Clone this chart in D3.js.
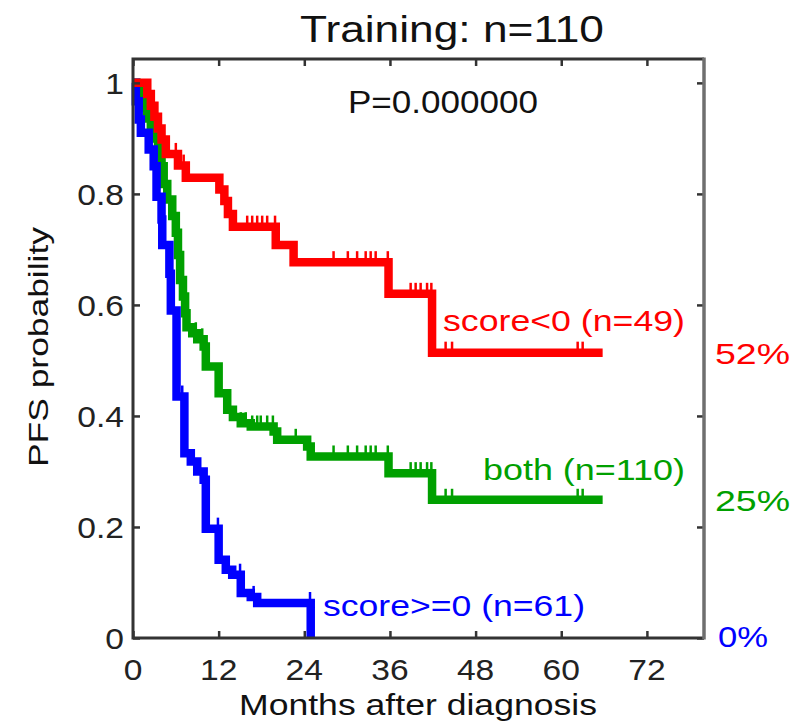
<!DOCTYPE html>
<html>
<head>
<meta charset="utf-8">
<script src="https://cdn.jsdelivr.net/npm/d3@7"></script>
<style>
  body { margin: 0; background: #fff; }
  text { font-family: "Liberation Sans", Arial, sans-serif; }
</style>
</head>
<body>
<div id="chart"></div>
<script>
// Ticks
const monthTicks = [0, 12, 24, 36, 48, 60, 72];
const probTicks = [0, 0.2, 0.4, 0.6, 0.8, 1];

// score<0 (n=49)
const redTimes = [0, 2.0, 2.5, 3.0, 3.5, 4.0, 4.6, 6.3, 7.4, 12.1, 12.8, 13.3, 14.0, 20.0, 22.5, 35.8, 41.9];
const redSurv  = [1, 0.980, 0.959, 0.939, 0.918, 0.898, 0.872, 0.851, 0.829, 0.808, 0.787, 0.764, 0.741, 0.708, 0.677, 0.620, 0.514];
const redCens  = [2.0, 3.2, 6.0, 7.1, 12.3, 16.0, 16.7, 17.4, 18.1, 18.8, 19.9, 22.8, 28.1, 30.1, 31.4, 32.6, 33.3, 34.0, 35.7, 38.9, 39.6, 40.3, 41.2, 41.8, 43.8, 44.7, 62.3, 63.0];
const redEnd = 65.8;

// both (n=110)
const greenTimes = [0, 0.5, 1.0, 1.5, 2.0, 2.5, 3.0, 3.5, 4.0, 4.3, 4.8, 5.5, 6.0, 6.3, 6.6, 7.0, 7.3, 7.5, 8.3, 9.0, 9.9, 10.2, 12.0, 13.2, 14.0, 15.1, 16.5, 19.7, 20.2, 24.4, 24.9, 35.8, 41.9];
const greenSurv  = [1, 0.991, 0.973, 0.955, 0.936, 0.918, 0.900, 0.873, 0.850, 0.818, 0.790, 0.760, 0.730, 0.690, 0.645, 0.615, 0.585, 0.560, 0.549, 0.538, 0.525, 0.489, 0.441, 0.411, 0.398, 0.387, 0.381, 0.372, 0.357, 0.345, 0.327, 0.297, 0.249];
const greenCens  = [2.0, 6.0, 7.1, 7.8, 8.8, 9.7, 12.3, 15.1, 15.8, 16.7, 17.4, 17.9, 18.8, 19.6, 22.8, 28.1, 30.1, 31.4, 32.6, 33.3, 34.0, 35.7, 38.9, 39.6, 40.3, 41.2, 41.8, 43.8, 44.7, 62.3, 63.0];
const greenEnd = 65.8;

// score>=0 (n=61)
const blueTimes = [0, 0.4, 0.8, 1.1, 2.2, 2.9, 3.3, 4.0, 4.1, 5.1, 5.3, 6.1, 7.2, 8.1, 9.0, 9.9, 10.2, 12.0, 13.0, 13.9, 15.1, 16.5, 17.4, 24.9];
const blueSurv  = [1, 0.967, 0.934, 0.910, 0.880, 0.850, 0.795, 0.754, 0.708, 0.656, 0.590, 0.435, 0.333, 0.318, 0.300, 0.285, 0.197, 0.141, 0.123, 0.114, 0.081, 0.074, 0.063, 0];
const blueCens  = [6.9, 11.9, 15.0, 16.9, 24.8];
const blueEnd = 24.9;

// Layout
const W = 801, H = 724;
const plot = { left: 133, right: 704, top: 59, bottom: 638 };

const svg = d3.select("#chart").append("svg")
    .attr("width", W)
    .attr("height", H);

const x = d3.scaleLinear().domain([0, 80]).range([plot.left, plot.right]);
const y = d3.scaleLinear().domain([0, 1.043]).range([plot.bottom, plot.top]);

const series = [
    { times: greenTimes, surv: greenSurv, cens: greenCens, end: greenEnd, color: "#00a000" },
    { times: blueTimes, surv: blueSurv, cens: blueCens, end: blueEnd, color: "#0000ff" },
    { times: redTimes, surv: redSurv, cens: redCens, end: redEnd, color: "#ff0000" }
];

const line = d3.line()
    .x(d => x(d[0]))
    .y(d => y(d[1]))
    .curve(d3.curveStepAfter);

function survAt(s, t) {
    let v = s.surv[0];
    for (let i = 0; i < s.times.length; i++) {
        if (s.times[i] <= t) v = s.surv[i];
    }
    return v;
}

series.forEach(s => {
    const pts = s.times.map((t, i) => [t, s.surv[i]]);
    const last = pts[pts.length - 1];
    if (s.end > last[0]) pts.push([s.end, last[1]]);

    svg.append("path")
        .datum(pts)
        .attr("d", line)
        .attr("fill", "none")
        .attr("stroke", s.color)
        .attr("stroke-width", 8.5)
        .attr("stroke-linejoin", "miter")
        .attr("stroke-linecap", "butt");

    // censoring marks
    svg.selectAll(null)
        .data(s.cens)
        .enter()
        .append("line")
        .attr("x1", d => x(d))
        .attr("x2", d => x(d))
        .attr("y1", d => y(survAt(s, d)))
        .attr("y2", d => y(survAt(s, d)) - 11)
        .attr("stroke", s.color)
        .attr("stroke-width", 2.5);
});

// Axes box with inward ticks
const axisColor = "#333";
const xAxis = d3.axisBottom(x).tickValues(monthTicks).tickSizeInner(-7).tickSizeOuter(0).tickFormat("");
const xAxisTop = d3.axisTop(x).tickValues(monthTicks).tickSizeInner(-7).tickSizeOuter(0).tickFormat("");
const yAxis = d3.axisLeft(y).tickValues(probTicks).tickSizeInner(-7).tickSizeOuter(0).tickFormat("");
const yAxisRight = d3.axisRight(y).tickValues(probTicks).tickSizeInner(-7).tickSizeOuter(0).tickFormat("");

svg.append("g").attr("transform", `translate(0,${plot.bottom})`).call(xAxis);
svg.append("g").attr("transform", `translate(0,${plot.top})`).call(xAxisTop);
svg.append("g").attr("transform", `translate(${plot.left},0)`).call(yAxis);
svg.append("g").attr("transform", `translate(${plot.right},0)`).call(yAxisRight);

svg.selectAll(".domain").remove();
svg.selectAll(".tick line").attr("stroke", axisColor).attr("stroke-width", 2.5);

svg.append("path")
    .attr("d", `M${plot.right},${plot.top}H${plot.left}V${plot.bottom}H${plot.right}`)
    .attr("fill", "none")
    .attr("stroke", axisColor)
    .attr("stroke-width", 3);

svg.append("line")
    .attr("x1", plot.right).attr("x2", plot.right)
    .attr("y1", plot.top - 1.5).attr("y2", plot.bottom + 1.5)
    .attr("stroke", "#6f6f6f")
    .attr("stroke-width", 3.5);

// Tick labels (slightly stretched like the original bitmap)
svg.selectAll(".xlab")
    .data(monthTicks)
    .enter()
    .append("text")
    .attr("transform", d => `translate(${x(d)},680) scale(1.12,1)`)
    .attr("text-anchor", "middle")
    .attr("font-size", 30)
    .attr("fill", "#222")
    .text(d => d);

svg.selectAll(".ylab")
    .data(probTicks)
    .enter()
    .append("text")
    .attr("transform", d => `translate(124,${y(d) + 11}) scale(1.12,1)`)
    .attr("text-anchor", "end")
    .attr("font-size", 30)
    .attr("fill", "#222")
    .text(d => d === 0 || d === 1 ? d : d.toFixed(1));

function addText(str, px, py, size, len, color, anchor, rotate) {
    const t = svg.append("text")
        .attr("x", px)
        .attr("y", py)
        .attr("font-size", size)
        .attr("fill", color)
        .attr("text-anchor", anchor || "start")
        .attr("textLength", len)
        .attr("lengthAdjust", "spacingAndGlyphs")
        .text(str);
    if (rotate) t.attr("transform", `rotate(${rotate},${px},${py})`);
    return t;
}

addText("Training: n=110", 452, 42, 37, 304, "#111", "middle");
addText("P=0.000000", 348, 113, 31, 190, "#111");
addText("Months after diagnosis", 418, 715, 29, 358, "#111", "middle");
addText("PFS probability", 48, 347, 28, 240, "#111", "middle", -90);

addText("score<0 (n=49)", 443, 331, 29, 242, "#ff0000");
addText("both (n=110)", 483, 480, 29, 202, "#00a000");
addText("score>=0 (n=61)", 323, 616, 29, 262, "#0000ff");

addText("52%", 715, y(redSurv[redSurv.length - 1]) + 11, 30, 75, "#ff0000");
addText("25%", 715, y(greenSurv[greenSurv.length - 1]) + 11, 30, 75, "#00a000");
addText("0%", 718, y(blueSurv[blueSurv.length - 1]) + 9, 30, 50, "#0000ff");
</script>
</body>
</html>
